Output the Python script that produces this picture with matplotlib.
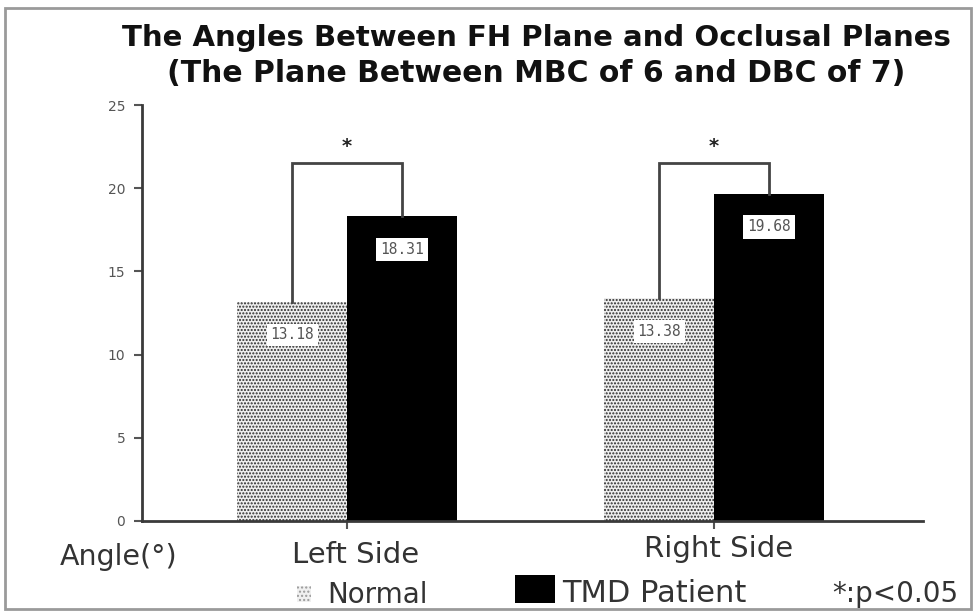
import matplotlib
matplotlib.use("Agg")
import matplotlib.pyplot as plt
from matplotlib.patches import Rectangle
import numpy as np

# data
sides = ["Left Side", "Right Side"]
normal = [13.18, 13.38]
tmd = [18.31, 19.68]
normal_labels = ["13.18", "13.38"]
tmd_labels = ["18.31", "19.68"]
yticks = [0, 5, 10, 15, 20, 25]
sig_mark = "*"

plt.rcParams['font.family'] = ['DejaVu Sans']

fig = plt.figure(figsize=(9.76, 6.12), dpi=100)
fig.patch.set_facecolor("white")

# grey frame round the picture
fig.add_artist(Rectangle((0.005, 0.005), 0.99, 0.982, transform=fig.transFigure,
                         fill=False, edgecolor="#9a9a9a", linewidth=2))

ax = fig.add_axes([0.1455, 0.1487, 0.8002, 0.6797])

x = np.arange(len(sides))
w = 0.30
ax.bar(x - w / 2, normal, w, facecolor="#eeeeee", edgecolor="#2a2a2a",
       hatch=".....", linewidth=0)
ax.bar(x + w / 2, tmd, w, color="black", linewidth=0)

# value boxes inside the bars
for i in range(len(sides)):
    ax.text(x[i] - w / 2, normal[i] - 2.0, normal_labels[i], ha="center", va="center",
            fontsize=10.5, color="#555555", family="DejaVu Sans Mono",
            bbox=dict(boxstyle="square,pad=0.25", fc="white", ec="none"))
    ax.text(x[i] + w / 2, tmd[i] - 2.0, tmd_labels[i], ha="center", va="center",
            fontsize=10.5, color="#555555", family="DejaVu Sans Mono",
            bbox=dict(boxstyle="square,pad=0.3", fc="white", ec="none"))

# significance brackets
top = 21.5
for i in range(len(sides)):
    xl = x[i] - w / 2
    xr = x[i] + w / 2
    ax.plot([xl, xl, xr, xr], [normal[i], top, top, tmd[i]], color="#444444",
            linewidth=2, solid_joinstyle="miter", zorder=1)
    ax.text(x[i], top + 0.45, sig_mark, ha="center", va="bottom", fontsize=14,
            fontweight="bold", color="#222222")

ax.set_xlim(-0.559, 1.569)
ax.set_ylim(0, 25)
ax.set_yticks(yticks)
ax.set_yticklabels([str(t) for t in yticks], fontsize=10, color="#555555")
ax.set_xticks(x)
ax.set_xticklabels([])
ax.tick_params(axis="y", direction="out", length=6, width=1.5, color="#555555", pad=6)
ax.tick_params(axis="x", direction="out", length=6, width=1.5, color="#555555")
for s in ["top", "right"]:
    ax.spines[s].set_visible(False)
for s in ["left", "bottom"]:
    ax.spines[s].set_linewidth(2)
    ax.spines[s].set_color("#3a3a3a")

# category names below the axis
fig.text(356 / 976, 1 - 563 / 612, sides[0], ha="center", va="baseline", fontsize=21, color="#333333")
fig.text(719 / 976, 1 - 557 / 612, sides[1], ha="center", va="baseline", fontsize=21, color="#333333")
fig.text(119 / 976, 1 - 565 / 612, "Angle(°)", ha="center", va="baseline", fontsize=20.5, color="#333333")

# titles
fig.text(536 / 976, 1 - 46 / 612, "The Angles Between FH Plane and Occlusal Planes",
         ha="center", va="baseline", fontsize=21, fontweight="bold", color="#111111")
fig.text(536 / 976, 1 - 82 / 612, "(The Plane Between MBC of 6 and DBC of 7)",
         ha="center", va="baseline", fontsize=21.5, fontweight="bold", color="#111111")

# legend drawn by hand
fig.add_artist(Rectangle((297 / 976, 1 - 602 / 612), 14 / 976, 16 / 612, transform=fig.transFigure,
                         facecolor="#f0f0f0", edgecolor="#9a9a9a", hatch="....", linewidth=0))
fig.text(327 / 976, 1 - 603 / 612, "Normal", ha="left", va="baseline", fontsize=20, color="#333333")
fig.add_artist(Rectangle((515 / 976, 1 - 603 / 612), 40 / 976, 28 / 612, transform=fig.transFigure,
                         facecolor="black", edgecolor="none"))
fig.text(562 / 976, 1 - 602 / 612, "TMD Patient", ha="left", va="baseline", fontsize=22, color="#333333")
fig.text(832 / 976, 1 - 602 / 612, sig_mark + ":p<0.05", ha="left", va="baseline", fontsize=20, color="#333333")

fig.savefig("out.png", dpi=100)
